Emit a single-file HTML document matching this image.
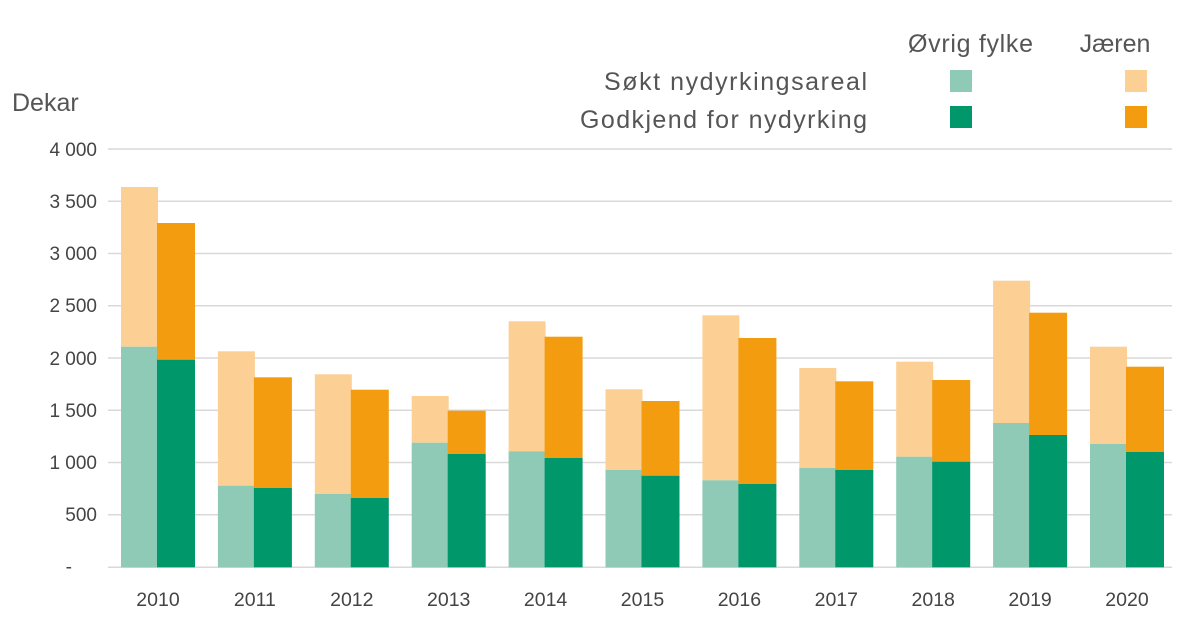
<!DOCTYPE html>
<html><head><meta charset="utf-8"><style>
html,body{margin:0;padding:0;background:#fff;}
svg{display:block;font-family:"Liberation Sans",sans-serif;}
</style></head><body>
<svg width="1200" height="630" viewBox="0 0 1200 630" xmlns="http://www.w3.org/2000/svg">
<g stroke="#d9d9d9" stroke-width="1.5">
<line x1="108" x2="1172" y1="149" y2="149"/>
<line x1="108" x2="1172" y1="201.3" y2="201.3"/>
<line x1="108" x2="1172" y1="253.5" y2="253.5"/>
<line x1="108" x2="1172" y1="305.8" y2="305.8"/>
<line x1="108" x2="1172" y1="358" y2="358"/>
<line x1="108" x2="1172" y1="410.3" y2="410.3"/>
<line x1="108" x2="1172" y1="462.5" y2="462.5"/>
<line x1="108" x2="1172" y1="514.8" y2="514.8"/>
<line x1="108" x2="1172" y1="567.3" y2="567.3"/>
</g>
<g font-size="19" fill="#444" text-anchor="end">
<text x="97" y="156">4 000</text>
<text x="97" y="208">3 500</text>
<text x="97" y="260">3 000</text>
<text x="97" y="312">2 500</text>
<text x="97" y="365">2 000</text>
<text x="97" y="417">1 500</text>
<text x="97" y="469">1 000</text>
<text x="97" y="521">500</text>
<text x="72" y="573">-</text>
</g>
<text x="12" y="111" font-size="25" fill="#555">Dekar</text>

<rect x="121" y="187" width="37" height="159.7" fill="#fcd094"/><rect x="121" y="346.7" width="37" height="220.6" fill="#8ecab6"/>
<rect x="157" y="223" width="38" height="136.7" fill="#f49c10"/><rect x="157" y="359.7" width="38" height="207.6" fill="#00976a"/>
<rect x="217.9" y="351.3" width="37" height="134.4" fill="#fcd094"/><rect x="217.9" y="485.7" width="37" height="81.6" fill="#8ecab6"/>
<rect x="253.9" y="377.3" width="38" height="110.7" fill="#f49c10"/><rect x="253.9" y="488" width="38" height="79.3" fill="#00976a"/>
<rect x="314.8" y="374.3" width="37" height="119.7" fill="#fcd094"/><rect x="314.8" y="494" width="37" height="73.3" fill="#8ecab6"/>
<rect x="350.8" y="389.7" width="38" height="108.3" fill="#f49c10"/><rect x="350.8" y="498" width="38" height="69.3" fill="#00976a"/>
<rect x="411.7" y="396" width="37" height="46.7" fill="#fcd094"/><rect x="411.7" y="442.7" width="37" height="124.6" fill="#8ecab6"/>
<rect x="447.7" y="410.7" width="38" height="43.3" fill="#f49c10"/><rect x="447.7" y="454" width="38" height="113.3" fill="#00976a"/>
<rect x="508.6" y="321.3" width="37" height="130" fill="#fcd094"/><rect x="508.6" y="451.3" width="37" height="116" fill="#8ecab6"/>
<rect x="544.6" y="336.7" width="38" height="121.3" fill="#f49c10"/><rect x="544.6" y="458" width="38" height="109.3" fill="#00976a"/>
<rect x="605.5" y="389.3" width="37" height="80.7" fill="#fcd094"/><rect x="605.5" y="470" width="37" height="97.3" fill="#8ecab6"/>
<rect x="641.5" y="401" width="38" height="74.7" fill="#f49c10"/><rect x="641.5" y="475.7" width="38" height="91.6" fill="#00976a"/>
<rect x="702.4" y="315.3" width="37" height="165" fill="#fcd094"/><rect x="702.4" y="480.3" width="37" height="87" fill="#8ecab6"/>
<rect x="738.4" y="338" width="38" height="146" fill="#f49c10"/><rect x="738.4" y="484" width="38" height="83.3" fill="#00976a"/>
<rect x="799.3" y="368" width="37" height="100" fill="#fcd094"/><rect x="799.3" y="468" width="37" height="99.3" fill="#8ecab6"/>
<rect x="835.3" y="381.3" width="38" height="88.7" fill="#f49c10"/><rect x="835.3" y="470" width="38" height="97.3" fill="#00976a"/>
<rect x="896.2" y="361.7" width="37" height="95" fill="#fcd094"/><rect x="896.2" y="456.7" width="37" height="110.6" fill="#8ecab6"/>
<rect x="932.2" y="380" width="38" height="81.7" fill="#f49c10"/><rect x="932.2" y="461.7" width="38" height="105.6" fill="#00976a"/>
<rect x="993.1" y="280.7" width="37" height="142.3" fill="#fcd094"/><rect x="993.1" y="423" width="37" height="144.3" fill="#8ecab6"/>
<rect x="1029.1" y="312.7" width="38" height="122.3" fill="#f49c10"/><rect x="1029.1" y="435" width="38" height="132.3" fill="#00976a"/>
<rect x="1090" y="346.7" width="37" height="97.3" fill="#fcd094"/><rect x="1090" y="444" width="37" height="123.3" fill="#8ecab6"/>
<rect x="1126" y="366.7" width="38" height="85.3" fill="#f49c10"/><rect x="1126" y="452" width="38" height="115.3" fill="#00976a"/>

<g font-size="19.5" fill="#444" text-anchor="middle">
<text x="158" y="606">2010</text>
<text x="254.9" y="606">2011</text>
<text x="351.8" y="606">2012</text>
<text x="448.7" y="606">2013</text>
<text x="545.6" y="606">2014</text>
<text x="642.5" y="606">2015</text>
<text x="739.4" y="606">2016</text>
<text x="836.3" y="606">2017</text>
<text x="933.2" y="606">2018</text>
<text x="1030.1" y="606">2019</text>
<text x="1127" y="606">2020</text>
</g>
<g font-size="25" fill="#555">
<text x="908" y="52" textLength="125">Øvrig fylke</text>
<text x="1115" y="52" text-anchor="middle">Jæren</text>
<text x="604" y="90" textLength="263">Søkt nydyrkingsareal</text>
<text x="580" y="128" textLength="287">Godkjend for nydyrking</text>
</g>
<rect x="950" y="70" width="22" height="22" fill="#8ecab6"/>
<rect x="1125" y="70" width="22" height="22" fill="#fcd094"/>
<rect x="950" y="106" width="22" height="22" fill="#00976a"/>
<rect x="1125" y="106" width="22" height="22" fill="#f49c10"/>
</svg>
</body></html>
